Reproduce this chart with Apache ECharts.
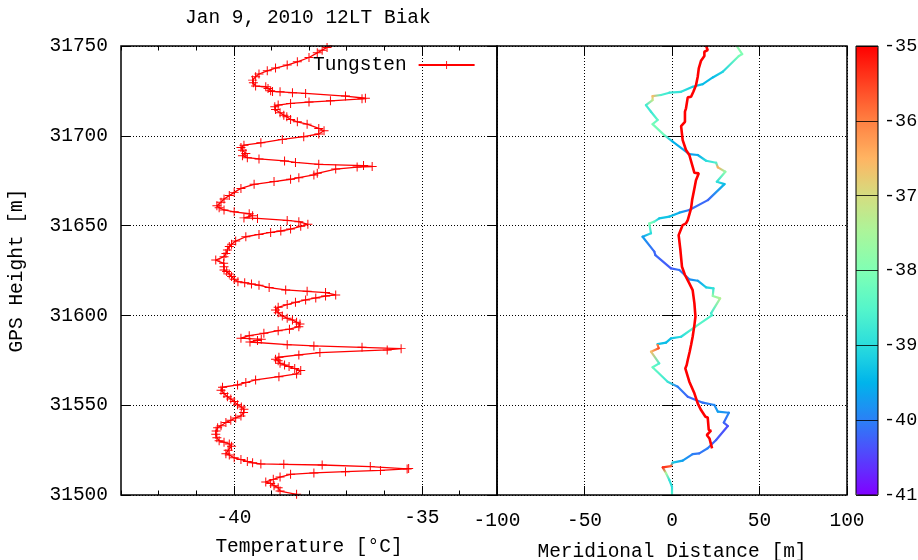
<!DOCTYPE html>
<html>
<head>
<meta charset="utf-8">
<script src="https://cdn.jsdelivr.net/npm/echarts@6/dist/echarts.min.js"></script>
<style>
  html, body { margin: 0; padding: 0; background: #fff; }
  #chart { width: 918px; height: 560px; }
</style>
</head>
<body>
<div id="chart"></div>
<script>
// Tungsten temperature profile: GPS height [m] and temperature [°C]
const tempHeights = [
  31500.4, 31502.2, 31504.1, 31505.2, 31506.4, 31507.3, 31508.7, 31510.0, 31511.5, 31512.3,
  31513.0, 31513.7, 31514.5, 31514.8, 31515.8, 31516.7, 31517.1, 31517.3, 31517.9, 31518.7,
  31519.7, 31520.7, 31522.3, 31523.0, 31524.9, 31527.1, 31528.4, 31529.4, 31530.2, 31531.9,
  31533.8, 31535.6, 31537.5, 31538.6, 31540.4, 31541.6, 31542.9, 31544.0, 31545.9, 31547.7,
  31549.0, 31550.3, 31552.0, 31553.5, 31554.7, 31556.5, 31558.3, 31560.0, 31561.3, 31562.6,
  31564.1, 31565.9, 31567.4, 31569.3, 31570.4, 31571.5, 31572.4, 31573.3, 31574.8, 31575.6,
  31576.7, 31578.0, 31579.3, 31580.8, 31581.5, 31582.2, 31583.0, 31583.7, 31585.2, 31586.0,
  31586.7, 31587.3, 31588.7, 31590.0, 31591.5, 31592.3, 31593.7, 31595.2, 31596.2, 31597.5,
  31598.4, 31599.7, 31601.5, 31603.0, 31604.5, 31606.0, 31607.3, 31608.6, 31609.7, 31610.8,
  31611.4, 31612.7, 31613.4, 31614.2, 31615.5, 31616.8, 31617.5, 31618.2, 31618.8, 31620.1,
  31621.6, 31623.1, 31624.4, 31625.3, 31627.1, 31629.0, 31630.8, 31632.7, 31634.5, 31636.4,
  31638.3, 31639.6, 31641.4, 31643.8, 31645.1, 31646.2, 31647.0, 31648.1, 31649.6, 31650.7,
  31652.2, 31652.9, 31654.0, 31654.3, 31655.5, 31656.6, 31657.7, 31658.7, 31660.0, 31661.1,
  31663.0, 31664.8, 31666.7, 31668.5, 31670.7, 31673.0, 31674.5, 31675.8, 31676.7, 31678.2,
  31679.1, 31681.5, 31682.6, 31682.9, 31683.4, 31684.1, 31685.2, 31686.0, 31687.1, 31687.8,
  31688.9, 31690.2, 31692.0, 31693.5, 31694.8, 31696.1, 31698.0, 31699.5, 31701.0, 31702.8,
  31704.1, 31706.5, 31707.8, 31709.1, 31710.6, 31711.5, 31712.8, 31714.7, 31716.2, 31717.1,
  31718.0, 31718.8, 31719.5, 31720.6, 31720.9, 31722.1, 31723.6, 31724.0, 31724.5, 31724.7,
  31725.1, 31726.4, 31727.3, 31727.7, 31729.5, 31731.0, 31732.9, 31734.4, 31736.2, 31737.7,
  31739.4, 31741.2, 31743.6, 31746.2, 31747.7, 31749.2, 31750.7
];
const tempValues = [
  -38.33, -38.77, -38.82, -38.93, -39.02, -39.15, -38.95, -38.77, -38.49, -37.87,
  -37.03, -36.10, -35.39, -35.35, -36.37, -37.65, -38.67, -39.28, -39.50, -39.64,
  -39.81, -39.99, -40.12, -40.21, -40.15, -40.06, -40.12, -40.26, -40.39, -40.45,
  -40.48, -40.47, -40.43, -40.34, -40.21, -40.08, -39.95, -39.81, -39.74, -39.73,
  -39.80, -39.90, -39.99, -40.08, -40.17, -40.26, -40.34, -40.30, -39.90, -39.68,
  -39.42, -38.80, -38.33, -38.22, -38.38, -38.53, -38.65, -38.77, -38.82, -38.89,
  -38.80, -38.27, -37.71, -35.92, -35.55, -36.59, -37.87, -38.58, -39.57, -39.37,
  -39.27, -39.81, -39.59, -39.20, -38.82, -38.52, -38.27, -38.24, -38.33, -38.44,
  -38.58, -38.71, -38.82, -38.89, -38.82, -38.58, -38.36, -38.09, -37.82, -37.56,
  -37.29, -37.56, -38.05, -38.62, -39.06, -39.33, -39.53, -39.71, -39.89, -39.99,
  -40.06, -40.12, -40.19, -40.26, -40.26, -40.27, -40.48, -40.26, -40.21, -40.17,
  -40.12, -40.06, -39.95, -39.68, -39.33, -39.02, -38.75, -38.49, -38.22, -38.03,
  -38.27, -38.58, -39.37, -39.73, -39.50, -39.59, -39.99, -40.26, -40.39, -40.45,
  -40.34, -40.26, -40.12, -39.99, -39.81, -39.46, -38.93, -38.49, -38.27, -37.87,
  -37.78, -37.29, -36.72, -36.32, -36.55, -37.74, -38.36, -38.65, -39.33, -39.64,
  -39.77, -39.68, -39.77, -39.81, -39.73, -39.28, -38.71, -38.14, -37.74, -37.60,
  -37.74, -38.05, -38.31, -38.49, -38.59, -38.67, -38.77, -38.89, -38.91, -38.82,
  -38.49, -38.00, -37.43, -36.59, -36.50, -37.03, -38.09, -38.44, -38.77, -38.97,
  -39.02, -39.09, -39.15, -39.42, -39.48, -39.50, -39.42, -39.33, -39.11, -38.89,
  -38.58, -38.31, -38.00, -37.78, -37.65, -37.52, -37.38
];

// Meridional drift track, coloured by the temperature at each height
const trackHeights = [
  31750.0, 31745.5, 31744.4, 31735.7, 31732.5, 31728.8, 31727.3, 31724.5, 31724.0, 31722.7,
  31722.1, 31719.9, 31717.1, 31713.4, 31708.8, 31706.5, 31700.4, 31696.7, 31689.8, 31689.3,
  31686.1, 31685.0, 31682.4, 31680.0, 31674.4, 31673.1, 31664.2, 31658.7, 31657.2, 31655.0,
  31654.0, 31652.2, 31651.2, 31645.7, 31643.8, 31635.5, 31633.6, 31626.2, 31625.3, 31620.1,
  31619.3, 31615.6, 31615.0, 31610.8, 31609.5, 31601.1, 31600.2, 31593.7, 31588.1, 31587.2,
  31584.8, 31584.0, 31583.5, 31581.7, 31579.8, 31573.3, 31571.1, 31563.1, 31560.3, 31554.7,
  31551.4, 31550.1, 31546.4, 31545.8, 31540.3, 31538.4, 31530.6, 31526.0, 31523.2, 31522.8,
  31519.1, 31518.0, 31516.1, 31515.4, 31512.1, 31508.3, 31504.6, 31500.0
];
const trackDistance = [
  37.0, 40.1, 38.2, 29.0, 23.3, 17.6, 11.8, 5.2, -1.5, -6.3,
  -11.1, -11.1, -14.9, -12.0, -8.2, -11.1, -4.4, 0.4, 9.9, 14.7,
  19.5, 25.2, 26.2, 30.5, 25.6, 30.0, 20.5, 9.9, 4.2, -1.5,
  -7.3, -10.1, -13.0, -12.0, -16.8, -10.1, -9.5, -0.6, 4.2, 9.9,
  14.7, 19.5, 23.7, 23.3, 27.5, 22.3, 23.0, 13.4, 5.2, -0.6,
  -3.4, -8.2, -8.2, -7.6, -12.0, -7.3, -11.1, -2.5, 3.3, 9.0,
  17.6, 24.2, 26.2, 32.5, 29.6, 31.9, 25.2, 20.4, 15.6, 11.8,
  6.1, 0.4, -0.6, -5.3, -3.4, -1.5, 0.0, 0.0
];
const trackTemp = [
  -37.8, -38.0, -38.1, -39.1, -39.4, -39.4, -39.2, -38.9, -38.8, -38.6,
  -36.6, -37.2, -38.7, -38.8, -38.4, -38.1, -38.2, -39.5, -39.7, -39.6,
  -39.0, -38.6, -36.4, -37.8, -38.9, -39.4, -40.2, -40.1, -39.6, -39.3,
  -39.3, -38.4, -38.0, -39.0, -39.7, -40.2, -40.2, -40.3, -40.1, -39.9,
  -39.7, -39.2, -38.9, -37.8, -37.4, -38.7, -38.6, -38.4, -39.0, -39.3,
  -39.4, -39.3, -36.0, -35.6, -36.6, -38.6, -38.3, -38.8, -40.0, -40.2,
  -40.1, -39.9, -39.7, -39.9, -40.2, -40.4, -40.3, -40.0, -40.1, -40.0,
  -39.7, -39.2, -35.7, -35.3, -37.5, -38.9, -39.0, -38.5
];

// Second drift curve (plain red)
const driftHeights = [
  31750.0, 31747.7, 31746.8, 31744.4, 31741.8, 31737.5, 31732.9, 31728.2, 31724.5, 31721.7,
  31721.4, 31715.3, 31713.4, 31707.8, 31705.4, 31697.6, 31692.1, 31689.3, 31682.8, 31679.4,
  31679.1, 31675.3, 31670.7, 31664.2, 31659.6, 31653.1, 31651.2, 31650.3, 31644.7, 31636.4,
  31627.1, 31622.5, 31617.8, 31614.1, 31606.7, 31599.3, 31594.6, 31588.1, 31583.5, 31579.8,
  31575.2, 31574.2, 31572.4, 31570.5, 31563.1, 31556.6, 31551.0, 31547.3, 31543.6, 31543.2,
  31536.2, 31535.8, 31533.4, 31531.5, 31526.0
];
const driftDistance = [
  19.5, 20.4, 18.5, 18.5, 16.6, 15.3, 14.7, 13.7, 12.2, 10.9,
  9.0, 8.0, 7.4, 7.4, 5.2, 6.1, 8.0, 9.9, 11.8, 12.8,
  15.3, 13.7, 12.8, 11.5, 10.9, 9.0, 8.0, 6.1, 3.8, 4.8,
  5.7, 7.4, 9.9, 11.8, 12.8, 13.4, 12.8, 11.8, 10.9, 10.1,
  9.0, 8.0, 8.4, 7.6, 9.9, 12.8, 14.7, 16.6, 19.1, 20.4,
  21.0, 22.3, 19.9, 21.4, 22.9
];

// Axis ticks and colour scale
const heightTicks = [31500, 31550, 31600, 31650, 31700, 31750];
const tempAxisLabels = [-40, -35];
const distanceTicks = [-100, -50, 0, 50, 100];
const colorScaleTicks = [-41, -40, -39, -38, -37, -36, -35];
const rainbow = ['#8000ff', '#5542fd', '#2b80f6', '#00b4eb', '#2bdddd', '#55f6ca', '#80ffb4',
                 '#aaf69b', '#d4dd80', '#ffb462', '#ff8042', '#ff4221', '#ff0000'];

const FONT = "'Liberation Mono', 'DejaVu Sans Mono', monospace";
const FS = 19.5;
const dotted = { color: '#000', width: 1, type: [1, 2] };
const crossSymbol = 'path://M0,4.45H10V5.55H0ZM4.45,0H5.55V10H4.45Z';
const plain = v => String(v);

const chart = echarts.init(document.getElementById('chart'), null, { renderer: 'canvas' });

const GRID_TOP = 46, GRID_H = 449;

function tickOnlyAxis(extra) {
  return Object.assign({
    type: 'value',
    axisLine: { show: false },
    axisLabel: { show: false },
    splitLine: { show: false },
    axisTick: { show: true, inside: true, length: 9, lineStyle: { color: '#000', width: 1 } }
  }, extra);
}

const gridBase = { show: true, borderColor: '#000', backgroundColor: 'transparent', outerBoundsMode: 'none', containLabel: false };

const option = {
  animation: false,
  backgroundColor: '#fff',
  textStyle: { fontFamily: FONT },
  title: {
    text: 'Jan 9, 2010 12LT Biak',
    left: 185, top: 8, padding: 0,
    textStyle: { fontFamily: FONT, fontSize: FS, fontWeight: 'normal', color: '#000' }
  },
  legend: {
    data: ['Tungsten'],
    left: 313, top: 55, padding: 0,
    align: 'right',
    itemWidth: 56, itemHeight: 10,
    selectedMode: false,
    textStyle: { fontFamily: FONT, fontSize: FS, color: '#000', padding: [0, 7, 0, 0] }
  },
  grid: [
    Object.assign({ left: 121, top: GRID_TOP, width: 376, height: GRID_H, borderWidth: 1.5, z: 5 }, gridBase),
    Object.assign({ left: 497, top: GRID_TOP, width: 350, height: GRID_H, borderWidth: 1.5, z: 5 }, gridBase),
    Object.assign({ left: 856, top: GRID_TOP, width: 22, height: GRID_H, borderWidth: 1, z: 10 }, gridBase)
  ],
  visualMap: {
    type: 'continuous',
    min: -41, max: -35,
    seriesIndex: 1,
    dimension: 2,
    inRange: { color: rainbow },
    left: 856, top: GRID_TOP,
    itemWidth: 22, itemHeight: GRID_H,
    padding: 0,
    calculable: false,
    hoverLink: false,
    showLabel: false,
    text: null
  },
  xAxis: [
    // temperature axis: labelled major ticks with grid lines
    {
      type: 'value', gridIndex: 0, position: 'bottom', min: -43, max: -33,
      axisLine: { show: false },
      axisTick: { show: true, inside: true, length: 9, customValues: tempAxisLabels, lineStyle: { color: '#000' } },
      axisLabel: { show: true, customValues: tempAxisLabels, margin: 13, fontFamily: FONT, fontSize: FS, color: '#000', formatter: plain },
      splitLine: { show: true, lineStyle: dotted },
      name: 'Temperature [°C]', nameLocation: 'middle', nameGap: 42,
      nameTextStyle: { fontFamily: FONT, fontSize: FS, color: '#000' }
    },
    tickOnlyAxis({ gridIndex: 0, position: 'bottom', min: -43, max: -33, interval: 1, axisTick: { show: true, inside: true, length: 4.5, lineStyle: { color: '#000' } } }),
    tickOnlyAxis({ gridIndex: 0, position: 'top', min: -43, max: -33, interval: 1, axisTick: { show: true, inside: true, length: 4.5, lineStyle: { color: '#000' } } }),
    tickOnlyAxis({ gridIndex: 0, position: 'top', min: -43, max: -33, axisTick: { show: true, inside: true, length: 9, customValues: tempAxisLabels, lineStyle: { color: '#000' } } }),
    // meridional distance axis
    {
      type: 'value', gridIndex: 1, position: 'bottom', min: distanceTicks[0], max: distanceTicks[distanceTicks.length - 1], interval: 50,
      axisLine: { show: false },
      axisTick: { show: true, inside: true, length: 9, lineStyle: { color: '#000' } },
      axisLabel: { show: true, margin: 16, fontFamily: FONT, fontSize: FS, color: '#000', formatter: plain },
      splitLine: { show: true, lineStyle: dotted },
      name: 'Meridional Distance [m]', nameLocation: 'middle', nameGap: 47,
      nameTextStyle: { fontFamily: FONT, fontSize: FS, color: '#000' }
    },
    tickOnlyAxis({ gridIndex: 1, position: 'top', min: -100, max: 100, interval: 50 }),
    // colour scale frame (no visible x axis)
    { type: 'value', gridIndex: 2, min: 0, max: 1, show: false }
  ],
  yAxis: [
    {
      type: 'value', gridIndex: 0, position: 'left', min: heightTicks[0], max: heightTicks[heightTicks.length - 1], interval: 50,
      axisLine: { show: false },
      axisTick: { show: true, inside: true, length: 9, lineStyle: { color: '#000' } },
      axisLabel: { show: true, margin: 13, fontFamily: FONT, fontSize: FS, color: '#000', formatter: plain },
      splitLine: { show: true, lineStyle: dotted },
      name: 'GPS Height [m]', nameLocation: 'middle', nameGap: 94, nameRotate: 90,
      nameTextStyle: { fontFamily: FONT, fontSize: FS, color: '#000' }
    },
    tickOnlyAxis({ gridIndex: 0, position: 'right', min: 31500, max: 31750, interval: 50 }),
    {
      type: 'value', gridIndex: 1, position: 'left', min: 31500, max: 31750, interval: 50,
      axisLine: { show: false },
      axisTick: { show: true, inside: true, length: 9, lineStyle: { color: '#000' } },
      axisLabel: { show: false },
      splitLine: { show: true, lineStyle: dotted }
    },
    tickOnlyAxis({ gridIndex: 1, position: 'right', min: 31500, max: 31750, interval: 50 }),
    {
      type: 'value', gridIndex: 2, position: 'right', min: colorScaleTicks[0], max: colorScaleTicks[colorScaleTicks.length - 1], interval: 1,
      z: 10,
      axisLine: { show: false },
      axisTick: { show: false },
      axisLabel: { show: true, margin: 6, fontFamily: FONT, fontSize: 18.5, color: '#000', formatter: plain },
      splitLine: { show: true, lineStyle: { color: '#000', width: 1, type: 'solid', opacity: 0.8 } }
    }
  ],
  series: [
    {
      name: 'Tungsten',
      type: 'line',
      xAxisIndex: 0, yAxisIndex: 0,
      data: tempValues.map((t, i) => [t, tempHeights[i]]),
      showSymbol: true, showAllSymbol: true,
      symbol: crossSymbol, symbolSize: 9,
      itemStyle: { color: '#ff0000' },
      lineStyle: { color: '#ff0000', width: 1.3 },
      clip: true,
      z: 3
    },
    {
      name: 'track',
      type: 'custom',
      xAxisIndex: 4, yAxisIndex: 2,
      data: trackDistance.map((d, i) => [d, trackHeights[i], trackTemp[i]]),
      dimensions: ['distance', 'height', 'temperature'],
      encode: { x: 0, y: 1 },
      clip: true,
      z: 2,
      renderItem: function (params, api) {
        const i = params.dataIndexInside;
        if (i >= params.dataInsideLength - 1) return null;
        const p0 = api.coord([api.value(0), api.value(1)]);
        const p1 = api.coord([api.value(0, i + 1), api.value(1, i + 1)]);
        const c0 = api.visual('color');
        const c1 = api.visual('color', i + 1);
        return {
          type: 'line',
          shape: { x1: p0[0], y1: p0[1], x2: p1[0], y2: p1[1] },
          style: {
            stroke: new echarts.graphic.LinearGradient(p0[0], p0[1], p1[0], p1[1],
              [{ offset: 0, color: c0 }, { offset: 1, color: c1 }], true),
            lineWidth: 2.2,
            lineCap: 'round'
          }
        };
      }
    },
    {
      name: 'drift',
      type: 'line',
      xAxisIndex: 4, yAxisIndex: 2,
      data: driftDistance.map((d, i) => [d, driftHeights[i]]),
      showSymbol: false,
      lineStyle: { color: '#ff0000', width: 2.6 },
      itemStyle: { color: '#ff0000' },
      clip: true,
      z: 3
    }
  ]
};

chart.setOption(option);
</script>
</body>
</html>
